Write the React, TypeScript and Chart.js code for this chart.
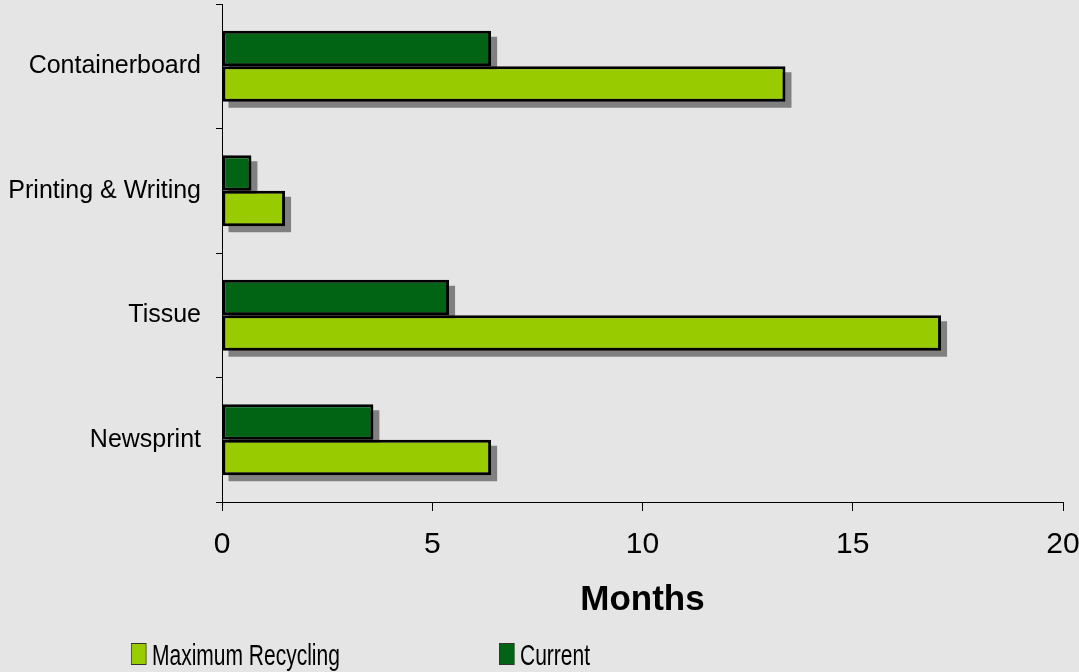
import React, { useEffect, useRef } from "react";
import { Chart, registerables } from "chart.js";

Chart.register(...registerables);

const categories = ["Containerboard", "Printing & Writing", "Tissue", "Newsprint"];
const currentValues = [6.4, 0.7, 5.4, 3.6];
const maxRecyclingValues = [13.4, 1.5, 17.1, 6.4];
const seriesNames = ["Current", "Maximum Recycling"];
const xTickValues = [0, 5, 10, 15, 20];
const axisTitle = "Months";

const DARK = "#006414";
const LIGHT = "#99CC00";
const BG = "#E5E5E5";
const FONT = '"Liberation Sans", Arial, Helvetica, sans-serif';

const bgPlugin = {
  id: "bgFill",
  beforeDraw(chart: any) {
    const { ctx, width, height } = chart;
    ctx.save();
    ctx.fillStyle = BG;
    ctx.fillRect(0, 0, width, height);
    ctx.restore();
  },
};

const shadowPlugin = {
  id: "barShadow",
  beforeDatasetsDraw(chart: any) {
    const ctx = chart.ctx;
    ctx.save();
    ctx.fillStyle = "#808080";
    chart.data.datasets.forEach((_ds: any, i: number) => {
      const meta = chart.getDatasetMeta(i);
      meta.data.forEach((bar: any) => {
        const { x, y, base, height } = bar.getProps(["x", "y", "base", "height"], true);
        const left = Math.min(x, base);
        const right = Math.max(x, base);
        ctx.fillRect(left + 6, y - height / 2 + 6, right - left, height);
      });
    });
    ctx.restore();
  },
};

// legend order: Maximum Recycling first, then Current
const legendLayout = [
  { ds: 1, x: 131 },
  { ds: 0, x: 499 },
];

const legendPlugin = {
  id: "squeezedLegend",
  afterDraw(chart: any) {
    const ctx = chart.ctx;
    const sx = 0.7;
    const top = 643;
    const box = 22;
    legendLayout.forEach((item) => {
      const ds = chart.data.datasets[item.ds];
      ctx.save();
      ctx.translate(item.x, top);
      ctx.scale(sx, 1);
      ctx.fillStyle = ds.backgroundColor;
      ctx.fillRect(0, 0, box, box);
      ctx.strokeStyle = "#333";
      ctx.lineWidth = 1;
      ctx.strokeRect(0.5, 0.5, box - 1, box - 1);
      ctx.fillStyle = "#000";
      ctx.font = `30px ${FONT}`;
      ctx.textBaseline = "alphabetic";
      ctx.textAlign = "left";
      ctx.fillText(ds.label, box + 8, box);
      ctx.restore();
    });
  },
};

export default function App() {
  const canvasRef = useRef<HTMLCanvasElement | null>(null);

  useEffect(() => {
    if (!canvasRef.current) return;
    const chart = new Chart(canvasRef.current, {
      type: "bar",
      data: {
        labels: categories,
        datasets: [
          {
            label: seriesNames[0],
            data: currentValues,
            backgroundColor: DARK,
            borderColor: "#000",
            borderWidth: 3,
            borderSkipped: false,
            categoryPercentage: 0.57,
            barPercentage: 1.0,
          },
          {
            label: seriesNames[1],
            data: maxRecyclingValues,
            backgroundColor: LIGHT,
            borderColor: "#000",
            borderWidth: 3,
            borderSkipped: false,
            categoryPercentage: 0.57,
            barPercentage: 1.0,
          },
        ],
      },
      options: {
        indexAxis: "y",
        animation: false,
        responsive: true,
        maintainAspectRatio: false,
        layout: { padding: { top: 4, left: 0, right: 0, bottom: 51 } },
        plugins: {
          legend: { display: false },
          tooltip: { enabled: false },
        },
        scales: {
          x: {
            type: "linear",
            min: xTickValues[0],
            max: xTickValues[xTickValues.length - 1],
            afterBuildTicks(scale: any) {
              scale.ticks = xTickValues.map((v) => ({ value: v }));
            },
            afterFit(scale: any) {
              scale.height = 119;
              scale.paddingLeft = 0;
              scale.paddingRight = 16;
              scale.paddingTop = 0;
              scale.paddingBottom = 0;
            },
            ticks: {
              color: "#000",
              font: { family: FONT, size: 30 },
              padding: 16,
              maxRotation: 0,
            },
            grid: {
              display: true,
              drawOnChartArea: false,
              color: "#000",
              tickLength: 9,
              lineWidth: 1,
            },
            border: { display: true, color: "#000", width: 1 },
            title: {
              display: true,
              text: axisTitle,
              color: "#000",
              font: { family: FONT, size: 35, weight: "bold" },
              padding: { top: 16, bottom: 0 },
            },
          },
          y: {
            type: "category",
            afterFit(scale: any) {
              scale.width = 222;
              scale.paddingTop = 0;
              scale.paddingBottom = 0;
              scale.paddingLeft = 0;
              scale.paddingRight = 0;
            },
            ticks: {
              color: "#000",
              font: { family: FONT, size: 25 },
              padding: 15,
            },
            grid: {
              display: true,
              drawOnChartArea: false,
              offset: true,
              color: "#000",
              tickLength: 6,
              lineWidth: 1,
            },
            border: { display: true, color: "#000", width: 1 },
          },
        },
      },
      plugins: [bgPlugin, shadowPlugin, legendPlugin],
    });
    return () => chart.destroy();
  }, []);

  return (
    <div
      style={{
        position: "absolute",
        left: 0,
        top: 0,
        width: 1079,
        height: 672,
        background: BG,
        overflow: "hidden",
      }}
    >
      <canvas ref={canvasRef} />
    </div>
  );
}
